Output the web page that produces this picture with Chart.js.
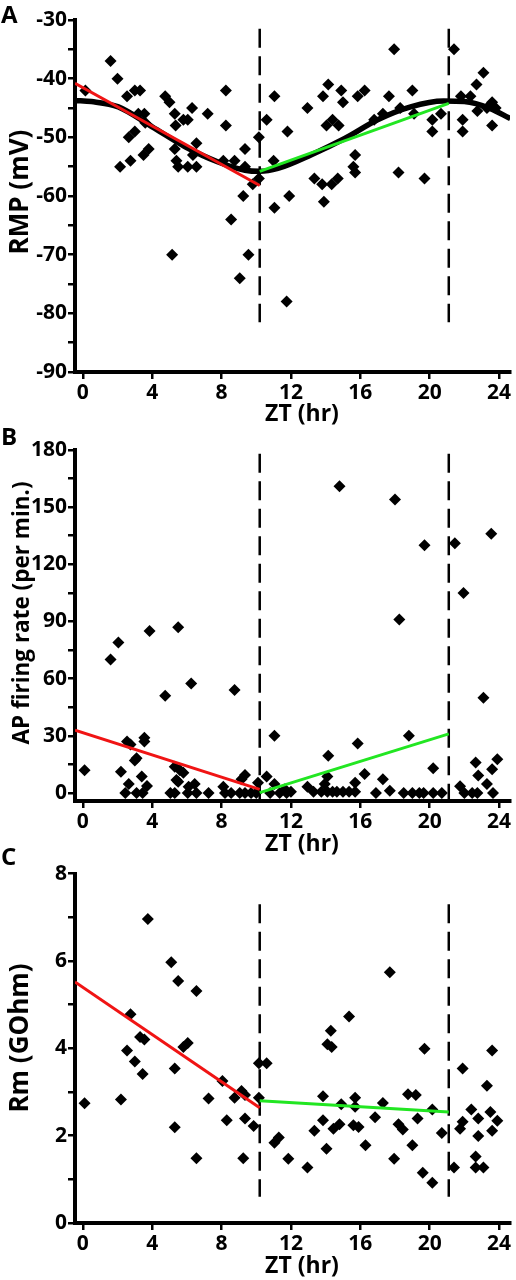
<!DOCTYPE html>
<html>
<head>
<meta charset="utf-8">
<script src="https://cdn.jsdelivr.net/npm/chart.js@4.4.1/dist/chart.umd.min.js"></script>
<style>
    body { margin: 0; background: #fff; }
    #wrap { position: relative; width: 516px; height: 1280px; font-family: 'Open Sans', sans-serif; }
    #wrap canvas { position: absolute; left: 0; }
    .panel-label { position: absolute; left: 1px; font-weight: bold; font-size: 24px; line-height: 24px; color: #000; }
</style>
</head>
<body>
<div id="wrap">
    <canvas id="chartA" width="516" height="430" style="top:0px"></canvas>
    <canvas id="chartB" width="516" height="430" style="top:430px"></canvas>
    <canvas id="chartC" width="516" height="420" style="top:860px"></canvas>
    <div class="panel-label" style="top:2px">A</div>
    <div class="panel-label" style="top:424px">B</div>
    <div class="panel-label" style="top:844px">C</div>
</div>
<script>
// shared x axis (ZT, hours)
const ztTicks = [0, 4, 8, 12, 16, 20, 24];
const phaseLines = [10.2, 21.1];

// --- A: resting membrane potential (mV) ---
const rmpTicks = [-90, -80, -70, -60, -50, -40, -30];
const rmpPoints = [
    [0.15,-42],[1.6,-37],[2.0,-40],[2.55,-43],[3.0,-42],[3.3,-42],[2.65,-50],[3.0,-49],
    [2.15,-55],[2.75,-54],[3.2,-46],[3.55,-46],[3.5,-53],[3.8,-52],[3.6,-47.5],[4.75,-43],
    [5.0,-44],[5.3,-46],[5.8,-47],[6.05,-47],[5.35,-48],[6.3,-45],[7.2,-46],[8.25,-42],
    [8.25,-48],[5.3,-52],[6.55,-51],[5.4,-54],[5.5,-55],[6.05,-55],[6.55,-55],[6.35,-53],
    [8.1,-54],[8.75,-54],[9.35,-52],[9.35,-55],[10.15,-50],[9.8,-58],[10.15,-57],[9.25,-60],
    [8.55,-64],[5.15,-70],[9.55,-70],[9.05,-74],
    [11.75,-78],[11.05,-43],[10.6,-47],[11.0,-54],[11.05,-62],[11.9,-60],[11.8,-49],[13.9,-61],
    [12.95,-45],[13.35,-57],[13.8,-58],[14.7,-57],[14.35,-58],[14.15,-41],[13.85,-43],[14.9,-42],
    [15.0,-44],[15.85,-43],[16.25,-42],[17.65,-43],[19.0,-42],[17.95,-35],[21.4,-35],[23.1,-39],
    [22.7,-41],[21.8,-43],[22.35,-43],[23.6,-44],[23.8,-45],[14.05,-48],[14.4,-47],[14.75,-48],
    [15.7,-53],[15.6,-55],[15.7,-56],[18.2,-56],[19.7,-57],[20.15,-47],[20.65,-46],[20.15,-49],
    [21.9,-47],[21.9,-49],[23.6,-48],[22.75,-45.5],[23.3,-45],[17.3,-46],[19.1,-46],[16.8,-47],
    [18.3,-45]
];
const rmpFit = [
    [-0.45,-43.7],[0.5,-43.9],[2.05,-44.8],[4.0,-48.2],[5.9,-51.6],[7.8,-54.2],[9.35,-55.6],
    [10.2,-55.8],[11.25,-55.3],[13.15,-53.0],[15.1,-50.2],[17.0,-47.0],[18.9,-44.8],[20.8,-43.8],
    [22.0,-43.9],[23.5,-45.1],[24.65,-46.8]
];
const rmpRed = [[-0.45,-40.8],[10.2,-58.2]];
const rmpGreen = [[10.2,-55.8],[21.1,-44.2]];

// --- B: AP firing rate (per min.) ---
const apTicks = [0, 30, 60, 90, 120, 150, 180];
const apPoints = [
    [14.8,161],[18.0,154],[19.7,130],[21.45,131],[23.55,136],[21.95,105],[18.25,91],[3.85,85],
    [5.5,87],[1.6,70],[2.05,79],[6.25,57.5],[4.75,51],[8.75,54],[23.1,50],[11.05,30],[18.8,30],
    [15.85,26],[14.15,19.5],[0.1,12],[20.2,13],[16.25,10],[17.3,7.2],[22.65,16],[23.9,17.7],
    [23.6,12.5],[22.8,9.2],[23.3,4.7],[23.65,0],[21.75,3.5],
    [2.55,27],[2.75,25.5],[3.55,29],[3.55,27],[2.2,11.2],[3.1,18.2],[3.0,17],[2.65,4.7],
    [3.4,8.6],[3.7,3.7],[2.45,0],[3.1,0],[3.45,0],[5.3,13.8],[5.6,12],[5.8,10.6],[5.4,6.8],
    [5.5,5.9],[5.05,0],[5.3,0],[6.1,3.3],[6.45,4.7],[6.05,0],[6.55,0],[7.25,0],[8.1,3.3],
    [8.2,0],[8.55,0],[9.05,0],[9.35,0],[9.7,0],[10.0,0],[9.15,7.2],[9.35,9.4],[10.1,5.4],
    [10.6,8.6],[11.05,4.7],[10.8,0],[11.35,0],[11.75,0],
    [11.65,2],[12.0,0.7],[12.95,3.3],[13.3,0.7],[13.75,0.7],[13.95,4.7],[14.1,0.7],[14.4,0.7],
    [14.65,0.7],[15.0,0.7],[15.35,0.7],[15.7,0.7],[14.1,8.6],[15.7,5.4],[16.9,0],[17.7,1.2],
    [18.5,0],[19.0,0],[19.4,0],[19.65,0],[20.2,0],[20.7,0],[22.0,0],[22.45,0],[22.75,0]
];
const apRed = [[-0.45,33],[10.2,1.9]];
const apGreen = [[10.2,0.2],[21.1,31]];

// --- C: membrane resistance (GOhm) ---
const rmTicks = [0, 2, 4, 6, 8];
const rmPoints = [
    [0.1,2.74],[2.2,2.83],[2.55,3.95],[2.75,4.78],[3.0,3.7],[3.3,4.26],[3.55,4.2],[3.45,3.41],
    [3.75,6.96],[5.1,5.97],[5.5,5.54],[6.55,5.31],[5.8,4.03],[6.05,4.12],[5.3,3.54],[5.3,2.19],
    [6.55,1.48],[7.25,2.85],[8.05,3.25],[8.3,2.35],[8.75,2.87],[9.15,3.02],[9.35,2.93],[9.35,2.39],
    [9.25,1.48],[9.85,2.22],[10.15,2.87],[10.15,3.66],[10.6,3.66],[11.05,1.84],[11.3,1.96],
    [11.85,1.47],[12.95,1.27],[13.35,2.11],[13.85,2.35],[13.85,2.9],[14.05,1.7],[14.1,4.09],
    [14.3,4.4],[14.35,4.03],[14.45,2.16],[14.8,2.26],[14.9,2.72],[15.35,4.73],[15.6,2.24],
    [15.7,2.87],[15.7,2.66],[15.9,2.2],[16.3,1.78],[16.85,2.42],[17.3,2.75],[17.7,5.74],
    [17.95,1.47],[18.2,2.26],[18.45,2.14],[18.75,2.95],[19.2,2.93],[19.0,1.78],[19.3,2.39],
    [19.6,1.15],[19.7,3.99],[20.15,2.6],[20.15,0.92],[20.7,2.06],[21.4,1.27],[21.75,2.16],
    [21.9,2.32],[21.9,3.54],[22.4,2.6],[22.65,1.52],[22.65,1.27],[22.8,2.39],[22.8,1.99],
    [23.1,1.27],[23.3,3.14],[23.5,2.54],[23.6,2.11],[23.6,3.95],[23.9,2.34]
];
const rmRed = [[-0.45,5.52],[10.2,2.64]];
const rmGreen = [[10.2,2.8],[21.1,2.54]];

const FONT = "'Open Sans', sans-serif";
const toXY = arr => arr.map(p => ({ x: p[0], y: p[1] }));

// axis titles drawn by hand so they can sit where the original puts them
const axisTitles = {
    id: 'axisTitles',
    afterDraw: function (chart, args, o) {
        const ctx = chart.ctx;
        ctx.save();
        ctx.fillStyle = '#000';
        ctx.textAlign = 'center';
        ctx.textBaseline = 'alphabetic';
        ctx.font = 'bold 23px ' + FONT;
        ctx.fillText('ZT (hr)', 302, o.xTitleBase);
        ctx.translate(o.yTitleBase, o.yTitleMid);
        ctx.rotate(-Math.PI / 2);
        ctx.font = 'bold ' + o.yTitleSize + 'px ' + FONT;
        ctx.fillText(o.yTitle, 0, 0);
        ctx.restore();
    }
};

function makePanel(id, cfg) {
    const datasets = [];
    if (cfg.red) datasets.push({ data: toXY(cfg.red), showLine: true, borderColor: '#f01414', borderWidth: 3, pointRadius: 0 });
    if (cfg.green) datasets.push({ data: toXY(cfg.green), showLine: true, borderColor: '#22e622', borderWidth: 3, pointRadius: 0 });
    if (cfg.fit) datasets.push({ data: toXY(cfg.fit), showLine: true, borderColor: '#000', borderWidth: 5.5, pointRadius: 0, tension: 0.4, cubicInterpolationMode: 'monotone' });
    phaseLines.forEach(function (x) {
        datasets.push({
            data: [{ x: x, y: cfg.dashTop }, { x: x, y: cfg.dashBottom }],
            showLine: true, borderColor: '#000', borderWidth: 2.5, borderDash: [19, 8.5], pointRadius: 0
        });
    });
    datasets.push({ data: toXY(cfg.points), pointStyle: 'rectRot', pointRadius: 6, pointBackgroundColor: '#000', pointBorderWidth: 0 });

    const major = cfg.yTicks;
    const half = (major[1] - major[0]) / 2;
    const yAll = [];
    major.forEach(function (v, i) { yAll.push(v); if (i < major.length - 1) yAll.push(v + half); });

    new Chart(document.getElementById(id), {
        type: 'scatter',
        data: { datasets: datasets },
        plugins: [axisTitles],
        options: {
            responsive: false,
            animation: false,
            events: [],
            layout: { padding: { top: cfg.padTop, right: 3, left: 0, bottom: 0 } },
            plugins: {
                legend: { display: false },
                tooltip: { enabled: false },
                axisTitles: {
                    yTitle: cfg.yTitle, yTitleSize: cfg.yTitleSize, yTitleMid: cfg.yTitleMid,
                    yTitleBase: cfg.yTitleBase, xTitleBase: cfg.xTitleBase
                }
            },
            scales: {
                x: {
                    type: 'linear', min: -0.45, max: 24.63,
                    afterBuildTicks: function (s) { s.ticks = ztTicks.map(v => ({ value: v })); },
                    afterFit: function (s) { s.height = cfg.xHeight; },
                    border: { display: true, color: '#000', width: 4 },
                    grid: { display: true, drawOnChartArea: false, drawTicks: true, tickLength: 7, color: '#000', lineWidth: 2.5 },
                    ticks: { color: '#000', padding: 1, maxRotation: 0, font: { family: FONT, size: 21, weight: 'bold' } }
                },
                y: {
                    type: 'linear', min: cfg.yMin, max: major[major.length - 1],
                    afterBuildTicks: function (s) { s.ticks = yAll.map(v => ({ value: v })); },
                    afterFit: function (s) { s.width = 75; },
                    border: { display: true, color: '#000', width: 4 },
                    grid: { display: true, drawOnChartArea: false, drawTicks: true, tickLength: 7, color: '#000', lineWidth: 2.5 },
                    ticks: {
                        color: '#000', padding: 1, font: { family: FONT, size: 21, weight: 'bold' },
                        callback: function (v) { return major.indexOf(v) >= 0 ? String(v) : ''; }
                    }
                }
            }
        }
    });
}

makePanel('chartA', {
    points: rmpPoints, fit: rmpFit, red: rmpRed, green: rmpGreen,
    yTicks: rmpTicks, yMin: -90, yTitle: 'RMP (mV)', yTitleSize: 26,
    dashTop: -31.5, dashBottom: -81.5,
    padTop: 20, xHeight: 58,
    yTitleMid: 192, yTitleBase: 28, xTitleBase: 421
});
makePanel('chartB', {
    points: apPoints, red: apRed, green: apGreen,
    yTicks: apTicks, yMin: -4.2, yTitle: 'AP firing rate (per min.)', yTitleSize: 22.5,
    dashTop: 178, dashBottom: -4.2,
    padTop: 20, xHeight: 59,
    yTitleMid: 183, yTitleBase: 29, xTitleBase: 421
});
makePanel('chartC', {
    points: rmPoints, red: rmRed, green: rmGreen,
    yTicks: rmTicks, yMin: 0, yTitle: 'Rm (GOhm)', yTitleSize: 26,
    dashTop: 7.3, dashBottom: 0.6,
    padTop: 13, xHeight: 57,
    yTitleMid: 178, yTitleBase: 28, xTitleBase: 413
});
</script>
</body>
</html>
